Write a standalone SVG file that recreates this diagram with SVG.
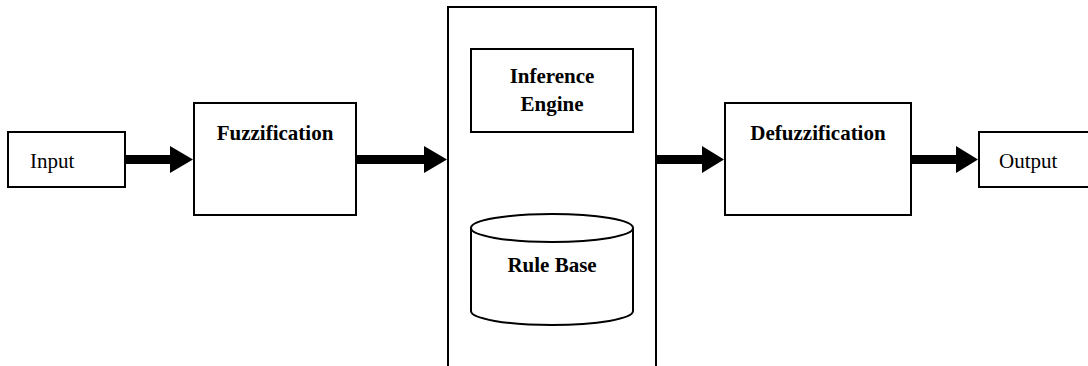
<svg xmlns="http://www.w3.org/2000/svg" width="1088" height="366" viewBox="0 0 1088 366">
<style>
.box{fill:#fff;stroke:#000;stroke-width:2}
.t{font-family:"Liberation Serif","Times New Roman",serif;font-size:21px;fill:#000}
.b{font-weight:bold;text-anchor:middle}
.arrow{fill:#000}
</style>
<rect width="1088" height="366" fill="#fff"/>
<g id="input"><rect class="box" x="8" y="132" width="117" height="55"/><text class="t" x="30" y="168">Input</text></g>
<g id="fuzzification"><rect class="box" x="194" y="103" width="162" height="112"/><text class="t b" x="275" y="140">Fuzzification</text></g>
<g id="inference-system"><rect class="box" x="448" y="7" width="208" height="370"/></g>
<g id="inference-engine"><rect class="box" x="471" y="49" width="162" height="83"/><text class="t b" x="552" y="83">Inference</text><text class="t b" x="552" y="111">Engine</text></g>
<g id="rule-base"><path class="box" d="M471,228 A81,14 0 0 1 633,228 L633,311 A81,14 0 0 1 471,311 Z"/><path d="M471,228 A81,14 0 0 0 633,228" fill="none" stroke="#000" stroke-width="2"/><text class="t b" x="552" y="272">Rule Base</text></g>
<g id="defuzzification"><rect class="box" x="725" y="103" width="186" height="112"/><text class="t b" x="818" y="140">Defuzzification</text></g>
<g id="output"><rect class="box" x="979" y="132" width="115" height="55"/><text class="t" x="999" y="168">Output</text></g>
<g id="connectors" class="arrow">
<path d="M125,155 H170 V146 L193,159.5 L170,173 V164 H125 Z"/>
<path d="M356,155 H424 V146 L447,159.5 L424,173 V164 H356 Z"/>
<path d="M657,155 H702 V146 L724,159.5 L702,173 V164 H657 Z"/>
<path d="M911,155 H956 V146 L978,159.5 L956,173 V164 H911 Z"/>
</g>
</svg>
